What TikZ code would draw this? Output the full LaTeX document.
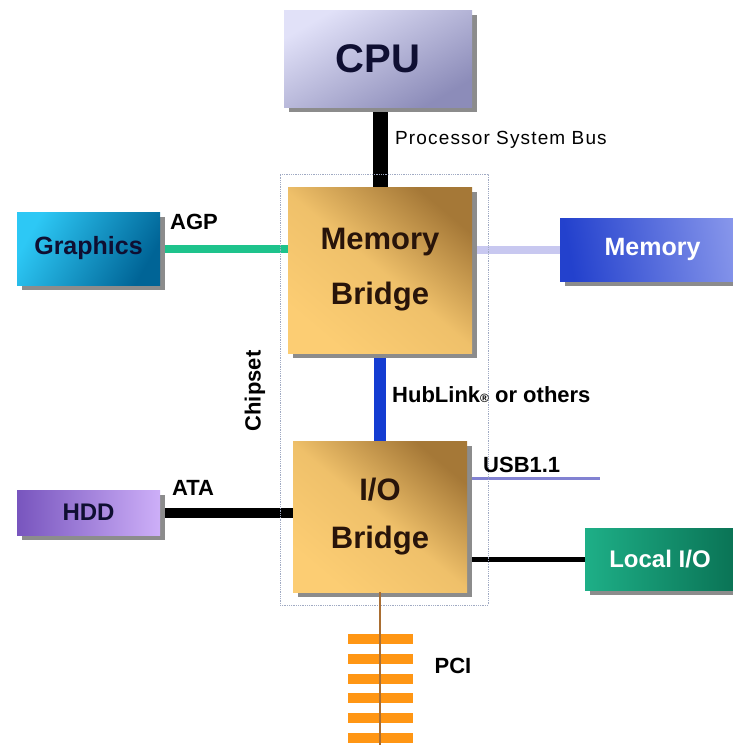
\documentclass[tikz,border=0pt]{standalone}
\usepackage{fontspec}
\setmainfont{Liberation Sans}
\newfontfamily\spacedfont[LetterSpace=6]{Liberation Sans}
\usetikzlibrary{shadows}
\pgfdeclarelayer{background}
\pgfsetlayers{background,main}
\definecolor{cpulight}{RGB}{225,225,248}
\definecolor{cpudark}{RGB}{140,140,185}
\definecolor{goldlight}{RGB}{252,205,115}
\definecolor{golddark}{RGB}{165,120,55}
\definecolor{gfxlight}{RGB}{45,200,245}
\definecolor{gfxdark}{RGB}{0,100,150}
\definecolor{memdark}{RGB}{35,65,205}
\definecolor{memlight}{RGB}{135,150,235}
\definecolor{hdddark}{RGB}{120,85,190}
\definecolor{hddlight}{RGB}{205,175,248}
\definecolor{locdark}{RGB}{10,115,85}
\definecolor{loclight}{RGB}{30,175,135}
\definecolor{navytext}{RGB}{15,15,50}
\definecolor{browntext}{RGB}{40,20,10}
\definecolor{agpgreen}{RGB}{30,195,140}
\definecolor{memline}{RGB}{200,200,240}
\definecolor{hubblue}{RGB}{20,60,210}
\definecolor{usbline}{RGB}{130,130,210}
\definecolor{pciorange}{RGB}{255,150,20}
\definecolor{pciline}{RGB}{170,110,50}
\definecolor{dotgrey}{RGB}{160,170,195}
\begin{document}
\begin{tikzpicture}[x=1pt,y=-1pt,
  box/.style={inner sep=0pt, outer sep=0pt,
    drop shadow={shadow xshift=5pt, shadow yshift=-5pt, fill=black!45, opacity=1}},
  lbl/.style={font=\bfseries\fontsize{22}{24}\selectfont, inner sep=0pt},
  pcibar/.style={fill=pciorange, minimum width=65pt, minimum height=10pt, inner sep=0pt}]
\clip (0,0) rectangle (733,745);

% chipset frame
\node[draw=dotgrey, densely dotted, line width=0.8pt, minimum width=208pt, minimum height=431pt, inner sep=0pt] (chipset) at (384,389.5) {};
\node[lbl, rotate=90] (chipsetlbl) at (255,391) {Chipset};

% boxes
\node[box, minimum width=188pt, minimum height=97pt, top color=cpulight, bottom color=cpudark, shading angle=30,
  font=\bfseries\fontsize{40}{44}\selectfont, text=navytext] (cpu) at (378,58.5) {CPU};
\node[box, minimum width=184pt, minimum height=166pt, top color=golddark, bottom color=goldlight, middle color=goldlight!85!golddark, shading angle=-40,
  font=\bfseries\fontsize{31}{55}\selectfont, text=browntext, align=center] (mb) at (380,270) {Memory\\Bridge};
\node[box, minimum width=174pt, minimum height=151pt, top color=golddark, bottom color=goldlight, middle color=goldlight!85!golddark, shading angle=-40,
  font=\bfseries\fontsize{31}{48}\selectfont, text=browntext, align=center] (iob) at (380,516.5) {I/O\\Bridge};
\node[box, minimum width=143pt, minimum height=73pt, left color=gfxlight, right color=gfxdark, shading angle=60,
  font=\bfseries\fontsize{25}{28}\selectfont, text=navytext] (gfx) at (88.5,248.5) {Graphics};
\node[box, minimum width=185pt, minimum height=63pt, left color=memdark, right color=memlight, shading angle=100,
  font=\bfseries\fontsize{25}{28}\selectfont, text=white] (mem) at (652.5,249.5) {Memory};
\node[box, minimum width=143pt, minimum height=45pt, left color=hdddark, right color=hddlight,
  font=\bfseries\fontsize{24}{26}\selectfont, text=navytext] (hdd) at (88.5,512.5) {HDD};
\node[box, minimum width=150pt, minimum height=62pt, left color=loclight, right color=locdark,
  font=\bfseries\fontsize{24}{26}\selectfont, text=white] (loc) at (660,559) {Local I/O};

% PCI bars
\node[pcibar] (pci1) at (380.5,639) {};
\node[pcibar] (pci2) at (380.5,659) {};
\node[pcibar] (pci3) at (380.5,679) {};
\node[pcibar] (pci4) at (380.5,698) {};
\node[pcibar] (pci5) at (380.5,718) {};
\node[pcibar] (pci6) at (380.5,738) {};
\coordinate (pciend) at (380,745);
\draw[pciline, line width=1.5pt] (iob.south) -- (pciend);

\coordinate (usbend) at (600,478);

% connectors
\begin{pgfonlayer}{background}
\fill[white] (0,0) rectangle (733,745);
\draw[black, line width=15pt] (mb.north |- cpu.south) -- (mb.north);
\draw[agpgreen, line width=8pt] (gfx.east) -- (gfx.east -| mb.west);
\draw[memline, line width=8pt] (mb.east |- mem.west) -- (mem.west);
\draw[hubblue, line width=12pt] (mb.south) -- (iob.north);
\draw[black, line width=10pt] (hdd.east) -- (hdd.east -| iob.west);
\draw[black, line width=5pt] (loc.west -| iob.east) -- (loc.west);
\draw[usbline, line width=3pt] (usbend -| iob.east) -- (usbend);
\end{pgfonlayer}

% labels
\node[inner sep=0pt, anchor=west, font=\spacedfont\fontsize{19}{21}\selectfont] (psb) at (395,140) {Processor System Bus};
\node[lbl] (agp) at (194,222) {AGP};
\node[lbl] (ata) at (193,488) {ATA};
\node[lbl, anchor=west] (hub) at (392,395) {HubLink{\fontsize{12}{12}\selectfont\textregistered} or others};
\node[lbl, anchor=west] (usb) at (483,465) {USB1.1};
\node[lbl] (pci) at (453,666) {PCI};
\end{tikzpicture}
\end{document}
